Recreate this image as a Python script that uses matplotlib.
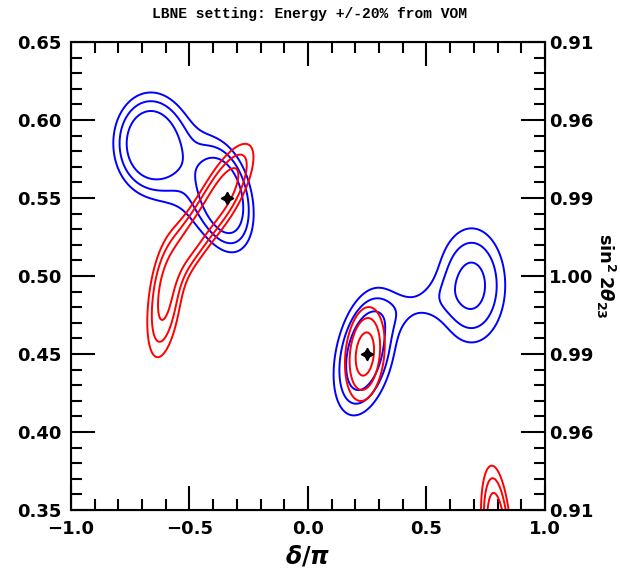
import matplotlib
matplotlib.use("Agg")
import matplotlib.pyplot as plt
import numpy as np
from matplotlib.ticker import MultipleLocator

# best fit points (delta/pi, sin^2 theta23)
best_x = [-0.34, 0.25]
best_y = [0.55, 0.45]

# blue allowed regions, built from a few gaussian lobes
blue_cx = [-0.672, -0.35, -0.50, 0.69, 0.24, 0.45]
blue_cy = [0.585, 0.550, 0.563, 0.494, 0.451, 0.481]
blue_sx = [0.095, 0.075, 0.12, 0.105, 0.085, 0.10]
blue_sy = [0.020, 0.021, 0.028, 0.027, 0.026, 0.011]
blue_rho = [0.0, -0.3, -0.3, 0.0, 0.35, 0.3]
blue_amp = [1.0, 1.0, 0.35, 0.75, 1.0, 0.24]

# red allowed regions
red_cx = [-0.36, -0.50, -0.605, 0.24, 0.795]
red_cy = [0.553, 0.521, 0.485, 0.45, 0.335]
red_sx = [0.09, 0.06, 0.055, 0.060, 0.042]
red_sy = [0.022, 0.016, 0.028, 0.0215, 0.028]
red_rho = [0.73, 0.6, 0.4, 0.2, -0.3]
red_amp = [0.85, 0.5, 0.72, 0.8, 1.0]

levels = [0.3, 0.45, 0.65]

right_ticks = [0.35, 0.40, 0.45, 0.50, 0.55, 0.60, 0.65]
right_labels = ["0.91", "0.96", "0.99", "1.00", "0.99", "0.96", "0.91"]

xg = np.linspace(-1.05, 1.05, 600)
yg = np.linspace(0.28, 0.67, 600)
X, Y = np.meshgrid(xg, yg)


def lobes(cx, cy, sx, sy, rho, amp):
    F = np.zeros_like(X)
    for i in range(len(cx)):
        dx = (X - cx[i]) / sx[i]
        dy = (Y - cy[i]) / sy[i]
        q = (dx**2 - 2 * rho[i] * dx * dy + dy**2) / (1 - rho[i]**2)
        F += amp[i] * np.exp(-0.5 * q)
    return F


plt.rcParams["font.family"] = "DejaVu Sans"
plt.rcParams["font.weight"] = "bold"

fig = plt.figure(figsize=(6.2, 5.78), dpi=100)
ax = fig.add_axes([0.1145, 0.1176, 0.7645, 0.8097])

ax.contour(X, Y, lobes(blue_cx, blue_cy, blue_sx, blue_sy, blue_rho, blue_amp),
           levels=levels, colors="blue", linewidths=1.4)
ax.contour(X, Y, lobes(red_cx, red_cy, red_sx, red_sy, red_rho, red_amp),
           levels=levels, colors="red", linewidths=1.4)
ax.plot(best_x, best_y, linestyle="none", marker=(4, 1, 0), color="black",
        markersize=9)

ax.set_xlim(-1, 1)
ax.set_ylim(0.35, 0.65)
ax.xaxis.set_major_locator(MultipleLocator(0.5))
ax.xaxis.set_minor_locator(MultipleLocator(0.1))
ax.yaxis.set_major_locator(MultipleLocator(0.05))
ax.yaxis.set_minor_locator(MultipleLocator(0.01))
ax.xaxis.set_major_formatter(plt.FuncFormatter(lambda v, p: f"{v:.1f}".replace("-", "\u2212")))
ax.yaxis.set_major_formatter(plt.FuncFormatter(lambda v, p: f"{v:.2f}"))
ax.tick_params(which="both", direction="in", top=True, right=True, width=1.5,
               labelsize=13, pad=7)
ax.tick_params(which="major", length=17)
ax.tick_params(which="minor", length=8)
for s in ax.spines.values():
    s.set_linewidth(1.5)

ax2 = ax.twinx()
ax2.set_ylim(0.35, 0.65)
ax2.set_yticks(right_ticks)
ax2.set_yticklabels(right_labels)
ax2.yaxis.set_minor_locator(MultipleLocator(0.01))
ax2.tick_params(which="both", direction="in", width=1.5, labelsize=13, pad=3)
ax2.tick_params(which="major", length=17)
ax2.tick_params(which="minor", length=8)
ax2.set_ylabel(r"$\sin^2 2\theta_{23}$", rotation=270, fontsize=13, labelpad=17)

ax.set_xlabel(r"$\delta/\pi$", fontsize=17, labelpad=4)
fig.text(0.5, 0.975, "LBNE setting: Energy +/-20% from VOM", ha="center", va="center",
         family="Liberation Mono", fontsize=10.5, fontweight="bold")

plt.savefig("out.png", dpi=100)
